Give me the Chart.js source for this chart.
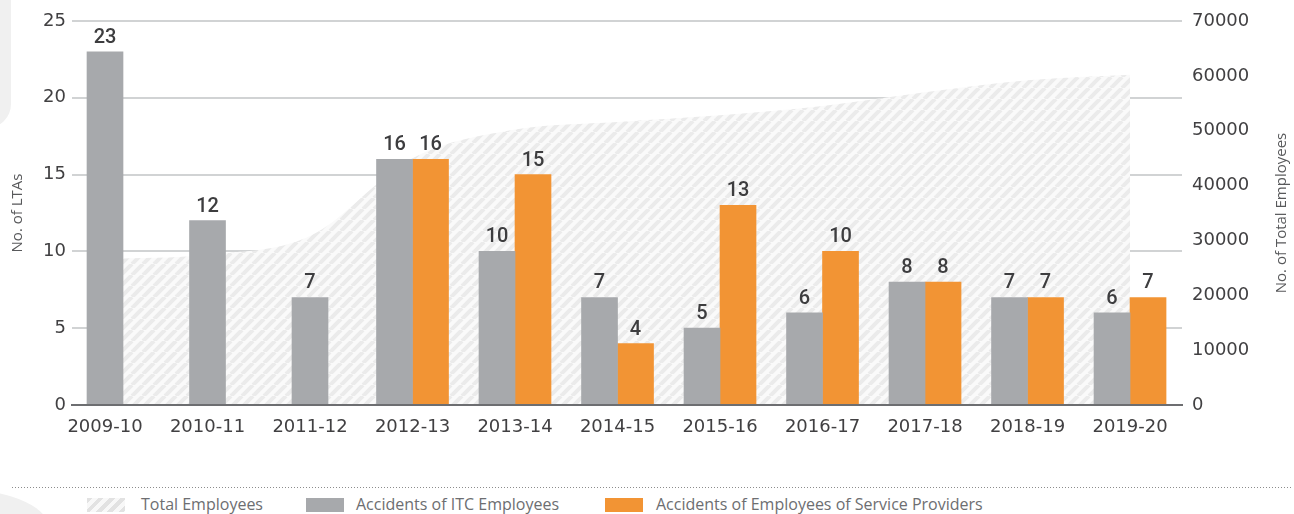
<!DOCTYPE html>
<html>
<head>
<meta charset="utf-8">
<script src="https://cdn.jsdelivr.net/npm/chart.js@4.4.1/dist/chart.umd.min.js"></script>
<style>
  html, body {
    margin: 0;
    padding: 0;
    width: 1294px;
    height: 514px;
    overflow: hidden;
    background: #fff;
    position: relative;
    font-family: "Open Sans", sans-serif;
  }
  .deco-top {
    position: absolute; left: -40px; top: -20px;
    width: 51px; height: 148px;
    background: #f0f0f0;
    border-radius: 0 0 24px 0;
  }
  .deco-bottom {
    position: absolute; left: -120px; top: 490px;
    width: 170px; height: 80px;
    background: #f0f0f0;
    border-radius: 50%;
  }
  #ltaChart { position: absolute; left: 0; top: 0; }
  .rule {
    position: absolute; left: 12px; top: 487px;
    width: 1280px; height: 1px;
    background: linear-gradient(to right, #8c8c8c 1px, transparent 1px) 0 0 / 3px 1px repeat-x;
  }
  .legend-item {
    position: absolute; top: 494px;
    font-size: 16px; color: #6d6e71; line-height: 20px;
    white-space: nowrap;
  }
  .swatch {
    position: absolute; top: 4px;
    width: 38px; height: 14px;
  }
  .hatch { background: repeating-linear-gradient(135deg, #e2e2e2 0 4px, #f8f8f8 4px 8px); }
</style>
</head>
<body>
<div class="deco-top"></div>
<div class="deco-bottom"></div>
<canvas id="ltaChart" width="1294" height="450"></canvas>
<div class="rule"></div>
<div class="legend-item" style="left:87px"><span class="swatch hatch"></span><span style="margin-left:54px">Total Employees</span></div>
<div class="legend-item" style="left:306px"><span class="swatch" style="background:#a7a9ac"></span><span style="margin-left:50px">Accidents of ITC Employees</span></div>
<div class="legend-item" style="left:605px"><span class="swatch" style="background:#f29434"></span><span style="margin-left:51px">Accidents of Employees of Service Providers</span></div>

<script>
// financial years on the x axis
const years = ['2009-10', '2010-11', '2011-12', '2012-13', '2013-14', '2014-15',
  '2015-16', '2016-17', '2017-18', '2018-19', '2019-20'];

// lost time accidents (left axis)
const itcAccidents = [23, 12, 7, 16, 10, 7, 5, 6, 8, 7, 6];
const providerAccidents = [null, null, null, 16, 15, 4, 13, 10, 8, 7, 7];

// headcount (right axis)
const totalEmployees = [26600, 27400, 30800, 45000, 50200, 51600, 52800, 54500, 57000, 59200, 60200];

const GRAY = '#a7a9ac';
const ORANGE = '#f29434';
const TEXT = '#414042';

// x is a linear index scale so the year slots can sit off-centre in the plot
const toPoints = (arr) => arr.map((v, i) => ({ x: i, y: v }));

function makeHatch() {
  const s = 11;
  const c = document.createElement('canvas');
  c.width = s;
  c.height = s;
  const g = c.getContext('2d');
  g.fillStyle = '#fafafa';
  g.fillRect(0, 0, s, s);
  g.strokeStyle = '#ebebeb';
  g.lineWidth = 4;
  for (const k of [-s, 0, s]) {
    g.beginPath();
    g.moveTo(k, s);
    g.lineTo(k + s, 0);
    g.stroke();
  }
  return g.createPattern(c, 'repeat');
}

// numbers over the bars
const barValueLabels = {
  id: 'barValueLabels',
  afterDatasetsDraw(chart) {
    const { ctx } = chart;
    ctx.save();
    ctx.font = '500 20px Roboto';
    ctx.fillStyle = '#3d3d3f';
    ctx.textAlign = 'center';
    ctx.textBaseline = 'alphabetic';
    chart.data.datasets.forEach((ds, i) => {
      if (ds.type !== 'bar') return;
      chart.getDatasetMeta(i).data.forEach((bar, j) => {
        const v = ds.data[j].y;
        if (v == null) return;
        ctx.fillText(v, bar.x, bar.y - 9);
      });
    });
    ctx.restore();
  }
};

// right axis title reads bottom-to-top like the left one
const rightTitle = {
  id: 'rightTitle',
  afterDraw(chart) {
    const { ctx, chartArea } = chart;
    ctx.save();
    ctx.translate(1282, (chartArea.top + chartArea.bottom) / 2);
    ctx.rotate(-Math.PI / 2);
    ctx.font = '15px "Open Sans"';
    ctx.fillStyle = '#58595b';
    ctx.textAlign = 'center';
    ctx.textBaseline = 'middle';
    ctx.fillText('No. of Total Employees', 0, 0);
    ctx.restore();
  }
};

const tickFont = { family: 'DejaVu Sans', size: 18 };

new Chart(document.getElementById('ltaChart'), {
  data: {
    datasets: [
      {
        type: 'line',
        label: 'Total Employees',
        data: toPoints(totalEmployees),
        yAxisID: 'y2',
        fill: 'origin',
        backgroundColor: makeHatch(),
        borderColor: 'rgba(0,0,0,0)',
        borderWidth: 0,
        pointRadius: 0,
        cubicInterpolationMode: 'monotone',
        order: 3
      },
      {
        type: 'bar',
        label: 'Accidents of ITC Employees',
        data: toPoints(itcAccidents),
        yAxisID: 'y',
        backgroundColor: GRAY,
        barThickness: 36,
        skipNull: true,
        order: 1
      },
      {
        type: 'bar',
        label: 'Accidents of Employees of Service Providers',
        data: toPoints(providerAccidents),
        yAxisID: 'y',
        backgroundColor: ORANGE,
        barThickness: 36,
        skipNull: true,
        order: 2
      }
    ]
  },
  options: {
    responsive: false,
    animation: false,
    layout: { padding: { top: 21, left: 0, right: 0, bottom: 0 } },
    plugins: {
      legend: { display: false },
      tooltip: { enabled: false }
    },
    scales: {
      x: {
        type: 'linear',
        offset: false,
        min: -0.322,
        max: 10.507,
        grid: { display: false, offset: false },
        // baseline goes over the hatched area
        border: { display: true, color: '#6d6e71', width: 2, z: 1 },
        ticks: {
          stepSize: 1,
          includeBounds: false,
          autoSkip: false,
          maxRotation: 0,
          padding: 4,
          color: TEXT,
          font: tickFont,
          callback: (v) => years[v] ?? ''
        },
        afterFit: (s) => { s.height = 45; }
      },
      y: {
        position: 'left',
        min: 0,
        max: 25,
        border: { display: false },
        grid: {
          drawTicks: false,
          lineWidth: 2,
          color: (c) => (c.tick.value === 0 ? '#6d6e71' : '#d1d3d4')
        },
        ticks: { stepSize: 5, padding: 6, color: TEXT, font: tickFont },
        title: {
          display: true,
          text: 'No. of LTAs',
          color: '#58595b',
          font: { family: 'Open Sans', size: 15 },
          padding: { top: 9, bottom: 0 }
        },
        afterFit: (s) => { s.width = 72; }
      },
      y2: {
        position: 'right',
        min: 0,
        max: 70000,
        border: { display: false },
        grid: { display: false, drawTicks: false },
        ticks: {
          stepSize: 10000,
          padding: 10,
          color: TEXT,
          font: tickFont,
          callback: (v) => String(v)
        },
        afterFit: (s) => { s.width = 112; }
      }
    }
  },
  plugins: [barValueLabels, rightTitle]
});
</script>
</body>
</html>
